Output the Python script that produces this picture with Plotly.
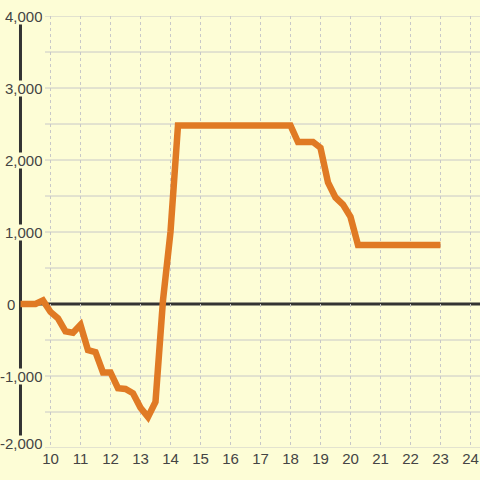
import plotly.graph_objects as go

# ---- data ----
hours = [9.0, 9.25, 9.5, 9.75, 10.0, 10.25, 10.5, 10.75, 11.0, 11.25, 11.5, 11.75,
         12.0, 12.25, 12.5, 12.75, 13.0, 13.25, 13.5, 13.75, 14.0, 14.25, 14.5, 14.75,
         15.0, 15.25, 15.5, 15.75, 16.0, 16.25, 16.5, 16.75, 17.0, 17.25, 17.5, 17.75,
         18.0, 18.25, 18.5, 18.75, 19.0, 19.25, 19.5, 19.75, 20.0, 20.25, 20.5, 20.75,
         21.0, 21.25, 21.5, 21.75, 22.0, 22.25, 22.5, 22.75, 23.0]
values = [0, 0, 0, 50, -110, -200, -380, -400, -290, -640, -670, -950,
          -950, -1170, -1180, -1240, -1440, -1570, -1360, 50, 1000, 2480, 2480, 2480,
          2480, 2480, 2480, 2480, 2480, 2480, 2480, 2480, 2480, 2480, 2480, 2480,
          2480, 2250, 2250, 2250, 2170, 1690, 1480, 1380, 1210, 820, 820, 820,
          820, 820, 820, 820, 820, 820, 820, 820, 820]

x_tick_vals = [10, 11, 12, 13, 14, 15, 16, 17, 18, 19, 20, 21, 22, 23, 24]
x_tick_labels = [str(v) for v in x_tick_vals]
y_tick_vals = [4000, 3000, 2000, 1000, 0, -1000, -2000]
y_tick_labels = ["4,000", "3,000", "2,000", "1,000", "0", "-1,000", "-2,000"]
y_grid_vals = [4000, 3500, 3000, 2500, 2000, 1500, 1000, 500, 0, -500, -1000, -1500, -2000]

# layout-only: right edge (px) and vertical shift of each y label
y_label_right_px = [44, 44, 44, 44, 16, 44, 44]
y_label_shift_px = [0, 0, 0, 0, 0, 0, 5]

BG = "#FDFDD6"
LINE = "#E07A24"
AXIS = "#333333"
GRID = "#C8C8C8"
TEXT = "#444444"
FONT = "Liberation Sans, Arial, sans-serif"

W, H = 480, 480
X_MIN, X_MAX = 8.317, 24.317
AXIS_X = 9.0
GRID_START = X_MIN + 45 / 30.0

fig = go.Figure()
fig.add_trace(go.Scatter(
    x=hours, y=values, mode="lines",
    line=dict(color=LINE, width=6.5),
    hoverinfo="skip", showlegend=False,
))

shapes = []
for g in y_grid_vals:
    shapes.append(dict(type="line", xref="x", yref="y", x0=GRID_START, x1=X_MAX, y0=g, y1=g,
                       line=dict(color=GRID, width=1), layer="below"))
# zero line
shapes.append(dict(type="line", xref="x", yref="y", x0=AXIS_X, x1=X_MAX, y0=0, y1=0,
                   line=dict(color=AXIS, width=3), layer="below"))
# y axis line
shapes.append(dict(type="line", xref="x", yref="y", x0=AXIS_X, x1=AXIS_X,
                   y0=y_tick_vals[0], y1=y_tick_vals[-1],
                   line=dict(color=AXIS, width=3), layer="below"))

annotations = []
for v, lab, rx, sh in zip(y_tick_vals, y_tick_labels, y_label_right_px, y_label_shift_px):
    annotations.append(dict(
        xref="paper", yref="y", x=rx / W, y=v, xanchor="right", yanchor="middle",
        text=lab, showarrow=False, font=dict(family=FONT, size=15, color=TEXT),
        bgcolor=BG, height=15, borderpad=0, yshift=sh,
    ))

fig.update_layout(
    width=W, height=H,
    margin=dict(l=0, r=0, t=16, b=32, autoexpand=False),
    paper_bgcolor=BG, plot_bgcolor=BG,
    shapes=shapes, annotations=annotations,
    xaxis=dict(range=[X_MIN, X_MAX], tickvals=x_tick_vals, ticktext=x_tick_labels,
               showgrid=True, gridcolor=GRID, gridwidth=1, griddash="3px,3px",
               zeroline=False, showline=False, ticks="", automargin=False,
               tickfont=dict(family=FONT, size=15, color=TEXT)),
    yaxis=dict(range=[-2000, 4000], showticklabels=False, showgrid=False,
               zeroline=False, showline=False, ticks="", automargin=False),
)

fig.write_html("out.html", config={"displayModeBar": False},
               post_script="document.body.style.margin='0';")
